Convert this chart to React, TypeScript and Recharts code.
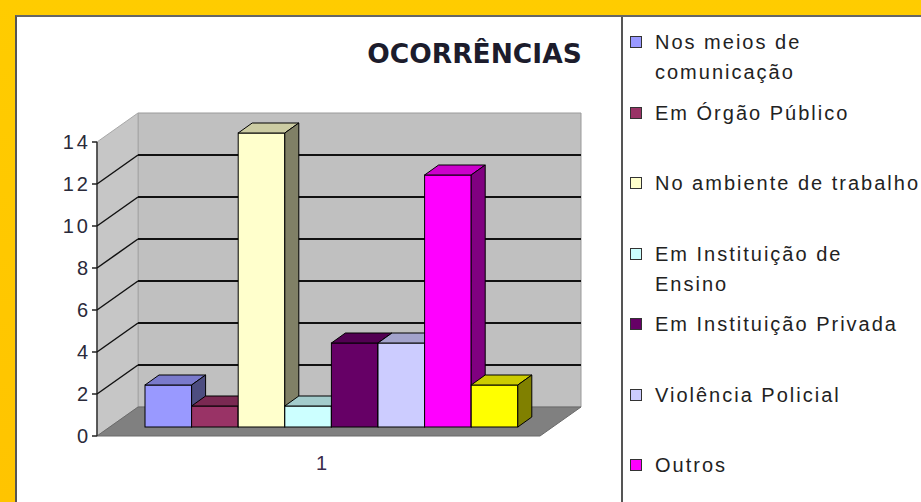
import React from 'react';
import { BarChart, Bar, XAxis, YAxis, CartesianGrid, Legend } from 'recharts';

// ---- data ----
const categories = ['1'];
const seriesNames = [
  'Nos meios de\ncomunicação',
  'Em Órgão Público',
  'No ambiente de trabalho',
  'Em Instituição de\nEnsino',
  'Em Instituição Privada',
  'Violência Policial',
  'Outros',
  'Série 8',
];
const seriesValues = [[2], [1], [14], [1], [4], [4], [12], [2]];
const seriesColors = ['#9999FF', '#993366', '#FFFFCC', '#CCFFFF', '#660066', '#CCCCFF', '#FF00FF', '#FFFF00'];
const seriesInLegend = [true, true, true, true, true, true, true, false];
const yTicks = [0, 2, 4, 6, 8, 10, 12, 14];
const title = 'OCORRÊNCIAS';

const data = categories.map((c, ci) => {
  const row: any = { name: c };
  seriesValues.forEach((vals, si) => {
    row['s' + si] = vals[ci];
  });
  return row;
});

// ---- layout ----
const W = 921;
const H = 502;
const MARGIN = { top: 133, right: 368, bottom: 45, left: 50 };
const Y_W = 60;
const X_H = 30;
const PLOT = {
  x: MARGIN.left + Y_W,
  y: MARGIN.top,
  width: W - MARGIN.left - Y_W - MARGIN.right,
  height: H - MARGIN.top - MARGIN.bottom - X_H,
};
// 3D offsets
const FDX = -13, FDY = 9; // front (axis) plane
const BDX = 28, BDY = -20; // back wall plane
const BAR_DX = 14, BAR_DY = -10; // bar depth

const FONT = "Arial, 'Liberation Sans', Helvetica, sans-serif";

function shade(hex: string, k: number) {
  const n = parseInt(hex.slice(1), 16);
  const r = Math.round(((n >> 16) & 255) * k);
  const g = Math.round(((n >> 8) & 255) * k);
  const b = Math.round((n & 255) * k);
  return `rgb(${r},${g},${b})`;
}

const Bar3D = (props: any) => {
  const { x, y, width, height, fill } = props;
  if (x == null || y == null || !width || height == null) return null;
  const top = shade(fill, 0.8);
  const side = shade(fill, 0.5);
  return (
    <g>
      <rect x={x} y={y} width={width} height={height} fill={fill} stroke="#000" strokeWidth={1} />
      <polygon
        points={`${x},${y} ${x + BAR_DX},${y + BAR_DY} ${x + width + BAR_DX},${y + BAR_DY} ${x + width},${y}`}
        fill={top}
        stroke="#000"
        strokeWidth={1}
        strokeLinejoin="round"
      />
      <polygon
        points={`${x + width},${y} ${x + width + BAR_DX},${y + BAR_DY} ${x + width + BAR_DX},${y + height + BAR_DY} ${x + width},${y + height}`}
        fill={side}
        stroke="#000"
        strokeWidth={1}
        strokeLinejoin="round"
      />
    </g>
  );
};

const renderGridLine = (p: any) => {
  const { y1, index } = p;
  const L = p.x ?? PLOT.x;
  const T = p.y ?? PLOT.y;
  const R = L + (p.width ?? PLOT.width);
  const B = T + (p.height ?? PLOT.height);
  const isEdge = Math.abs(y1 - T) < 0.5 || Math.abs(y1 - B) < 0.5;
  return (
    <g key={`gl-${index}`}>
      {index === 0 && (
        <g>
          <polygon
            points={`${L + BDX},${T + BDY} ${R + BDX},${T + BDY} ${R + BDX},${B + BDY} ${L + BDX},${B + BDY}`}
            fill="#c0c0c0"
            stroke="#9a9a9a"
            strokeWidth={1}
          />
          <polygon
            points={`${L + FDX},${T + FDY} ${L + BDX},${T + BDY} ${L + BDX},${B + BDY} ${L + FDX},${B + FDY}`}
            fill="#c6c6c6"
            stroke="#a8a8a8"
            strokeWidth={1}
          />
          <polygon
            points={`${L + FDX},${B + FDY} ${R + FDX},${B + FDY} ${R + BDX},${B + BDY} ${L + BDX},${B + BDY}`}
            fill="#808080"
            stroke="#6a6a6a"
            strokeWidth={1}
          />
          <line x1={L + FDX} y1={T + FDY} x2={L + FDX} y2={B + FDY} stroke="#333" strokeWidth={1.5} />
        </g>
      )}
      {!isEdge && (
        <g>
          <line x1={L + FDX} y1={y1 + FDY} x2={L + BDX} y2={y1 + BDY} stroke="#111" strokeWidth={1.5} />
          <line x1={L + BDX} y1={y1 + BDY} x2={R + BDX} y2={y1 + BDY} stroke="#111" strokeWidth={2} />
        </g>
      )}
      <line x1={L + FDX - 5} y1={y1 + FDY} x2={L + FDX} y2={y1 + FDY} stroke="#222" strokeWidth={1.5} />
    </g>
  );
};

const YTick = (props: any) => {
  const { x, y, payload } = props;
  return (
    <text
      x={x + FDX - 6}
      y={y + FDY + 7}
      textAnchor="end"
      fontFamily={FONT}
      fontSize={20}
      letterSpacing={3}
      fill="#2a2a3a"
    >
      {payload.value}
    </text>
  );
};

const XTick = (props: any) => {
  const { x, y, payload } = props;
  return (
    <text
      x={x - 10}
      y={y + 43}
      textAnchor="middle"
      fontFamily={FONT}
      fontSize={20}
      fill="#3a2a4a"
    >
      {payload.value}
    </text>
  );
};

const LegendContent = (props: any) => {
  const raw = props.payload || [];
  const items = seriesNames
    .map((n, i) => ({ n, i, entry: raw.find((e: any) => e.value === n) }))
    .filter((it) => seriesInLegend[it.i]);
  return (
    <div
      style={{
        position: 'relative',
        width: 300,
        height: 470,
        fontFamily: FONT,
        fontSize: 20,
        letterSpacing: 2.0,
        color: '#222',
      }}
    >
      {items.map((it, k) => {
        const lines = it.n.split('\n');
        const color = it.entry ? it.entry.color : seriesColors[it.i];
        return (
          <div key={k} style={{ position: 'absolute', left: 0, top: k * 70.5, width: 300 }}>
            <span
              style={{
                position: 'absolute',
                left: 4,
                top: 4,
                width: 10,
                height: 10,
                background: color,
                border: '1px solid #333',
              }}
            />
            {lines.map((ln: string, j: number) => (
              <div
                key={j}
                style={{
                  position: 'absolute',
                  left: 29,
                  top: j * 30,
                  lineHeight: '20px',
                  whiteSpace: 'nowrap',
                }}
              >
                {ln}
              </div>
            ))}
          </div>
        );
      })}
    </div>
  );
};

export default function App() {
  return (
    <div
      style={{
        position: 'absolute',
        left: 0,
        top: 0,
        width: W,
        height: H,
        overflow: 'hidden',
        background: 'linear-gradient(180deg, #FFCC00 0%, #FFC400 100%)',
      }}
    >
      <div
        style={{
          position: 'absolute',
          left: 15,
          top: 15,
          width: W,
          height: H,
          background: '#fff',
          borderLeft: '2px solid #555',
          borderTop: '2px solid #666',
        }}
      />
      <div
        style={{
          position: 'absolute',
          left: 621,
          top: 17,
          width: 2,
          height: H,
          background: '#555',
        }}
      />
      <svg style={{ position: 'absolute', left: 0, top: 0 }} width={W} height={H}>
        <text
          x={474.5}
          y={63}
          textAnchor="middle"
          fontFamily="'DejaVu Sans', Verdana, sans-serif"
          fontWeight="bold"
          fontSize={26.5}
          fill="#1c1c2c"
        >
          {title}
        </text>
      </svg>
      <div style={{ position: 'absolute', left: 0, top: 0 }}>
        <BarChart width={W} height={H} data={data} margin={MARGIN} barGap={0}>
          <CartesianGrid vertical={false} horizontal={renderGridLine} />
          <XAxis
            dataKey="name"
            height={X_H}
            axisLine={false}
            tickLine={false}
            tickSize={0}
            tickMargin={0}
            tick={<XTick />}
          />
          <YAxis
            width={Y_W}
            domain={[0, 14]}
            ticks={yTicks}
            axisLine={false}
            tickLine={false}
            tickSize={0}
            tickMargin={0}
            tick={<YTick />}
          />
          <Legend
            layout="horizontal"
            verticalAlign="middle"
            align="center"
            itemSorter={null as any}
            content={<LegendContent />}
            wrapperStyle={{ left: 626, top: 32, width: 300, height: 470 }}
          />
          {seriesNames.map((n, i) => (
            <Bar
              key={i}
              dataKey={'s' + i}
              name={n}
              fill={seriesColors[i]}
              barSize={46.6}
              legendType={seriesInLegend[i] ? 'square' : 'none'}
              shape={<Bar3D />}
              isAnimationActive={false}
            />
          ))}
        </BarChart>
      </div>
    </div>
  );
}
